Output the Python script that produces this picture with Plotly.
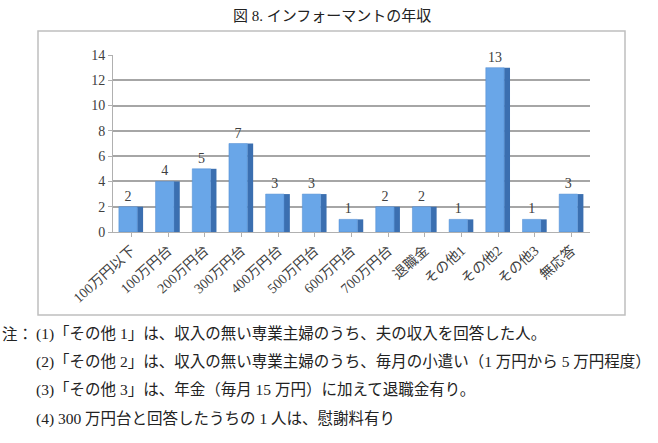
import plotly.graph_objects as go

categories = ["100万円以下", "100万円台", "200万円台", "300万円台", "400万円台", "500万円台",
              "600万円台", "700万円台", "退職金", "その他1", "その他2", "その他3", "無応答"]
counts = [2, 4, 5, 7, 3, 3, 1, 2, 2, 1, 13, 1, 3]
y_ticks = [0, 2, 4, 6, 8, 10, 12, 14]

title_text = "図 8. インフォーマントの年収"
note_head = "注："
notes = [
    "(1)「その他 1」は、収入の無い専業主婦のうち、夫の収入を回答した人。",
    "(2)「その他 2」は、収入の無い専業主婦のうち、毎月の小遣い（1 万円から 5 万円程度）",
    "(3)「その他 3」は、年金（毎月 15 万円）に加えて退職金有り。",
    "(4) 300 万円台と回答したうちの 1 人は、慰謝料有り",
]

W, H = 658, 443
PL, PR, PT, PB = 113, 590, 55, 232  # plot area in pixels
FONT = "Liberation Serif, DejaVu Serif, Noto Sans CJK JP"

def px(x):
    return (x - PL) / (PR - PL)

def py(y):
    return (PB - y) / (PB - PT)

xs = list(range(len(categories)))

fig = go.Figure()
# side face (depth)
fig.add_trace(go.Bar(
    x=xs, y=counts, width=0.16, offset=0.16,
    marker=dict(color="#3b6fb0", line=dict(width=0)),
    hoverinfo="skip", showlegend=False,
))
# front face
fig.add_trace(go.Bar(
    x=xs, y=counts, width=0.5, offset=-0.34,
    marker=dict(color="#69a6e8", line=dict(color="#4f8ad0", width=0.5)),
    text=[str(v) for v in counts], textposition="outside",
    textfont=dict(family=FONT, size=14, color="#404040"),
    cliponaxis=False, showlegend=False,
))

fig.update_layout(
    width=W, height=H,
    margin=dict(l=PL, r=W - PR, t=PT, b=H - PB),
    paper_bgcolor="white", plot_bgcolor="white",
    barmode="overlay",
    font=dict(family=FONT, size=14, color="#404040"),
    xaxis=dict(
        tickmode="array", tickvals=xs, ticktext=categories, tickangle=-42,
        range=[-0.5, len(categories) - 0.5],
        showgrid=False, showline=True, linecolor="#b0b0b0", linewidth=1,
        ticks="outside", ticklen=4, tickcolor="#b0b0b0",
        tickfont=dict(family=FONT, size=14, color="#404040"),
        zeroline=False,
    ),
    yaxis=dict(
        range=[0, 14], tickmode="array", tickvals=y_ticks,
        showgrid=True, gridcolor="#a6a6a6", gridwidth=1.5,
        showline=True, linecolor="#b0b0b0", linewidth=1,
        ticks="outside", ticklen=4, tickcolor="#b0b0b0",
        tickfont=dict(family=FONT, size=14, color="#404040"),
        zeroline=False,
    ),
)

# chart outer box
fig.add_shape(type="rect", xref="paper", yref="paper",
              x0=px(38), x1=px(625), y0=py(315), y1=py(31),
              line=dict(color="#bfbfbf", width=1.5), fillcolor="rgba(0,0,0,0)", layer="below")

# title
fig.add_annotation(text=title_text, xref="paper", yref="paper",
                   x=px(332), y=py(16), xanchor="center", yanchor="middle",
                   showarrow=False, font=dict(family=FONT, size=15, color="#222222"))

# notes
fig.add_annotation(text=note_head, xref="paper", yref="paper",
                   x=px(0), y=py(334), xanchor="left", yanchor="middle",
                   showarrow=False, font=dict(family=FONT, size=15.5, color="#222222"))
for i, line in enumerate(notes):
    fig.add_annotation(text=line, xref="paper", yref="paper",
                       x=px(34), y=py(334 + i * 28), xanchor="left", yanchor="middle",
                       showarrow=False, font=dict(family=FONT, size=15.5, color="#222222"))

fig.write_html("out.html")
